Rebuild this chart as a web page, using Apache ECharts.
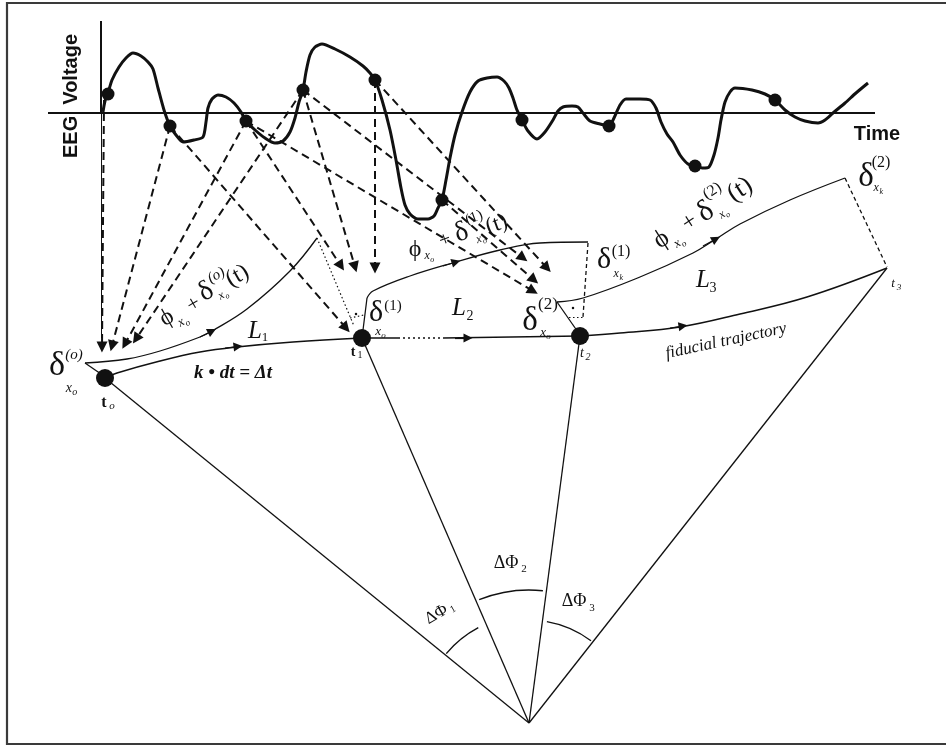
<!DOCTYPE html>
<html><head><meta charset="utf-8">
<script src="https://cdn.jsdelivr.net/npm/echarts/dist/echarts.min.js"></script>
<style>html,body{margin:0;padding:0;background:#fff}#c{width:946px;height:747px}</style>
</head><body><div id="c"></div>
<script>
// ---------- data (diagram units = pixels of the reference) ----------
const eegCurve = [
[103,112],[105,101],[108,93],[112,80],[119,67],[126,58],[133,53],[141,56],[148,62],[153,69],[158,88],[164,110],[170,126],[176,135],[183,142],[194,140],[203,137],[206,122],[208,108],[212,99],[218,95],[226,97],[234,103],[241,112],[246,121],[255,130],[265,138],[275,143],[283,141],[290,132],[295,118],[299,102],[303,90],[306,72],[310,55],[315,47],[322,44],[335,49],[350,57],[363,66],[370,73],[375,80],[382,100],[390,130],[396,160],[401,188],[405,205],[410,214],[418,219],[428,219],[434,216],[438,208],[442,200],[446,180],[450,158],[455,135],[462,112],[470,92],[478,81],[487,78],[497,77],[504,81],[509,88],[513,98],[517,110],[522,120],[528,131],[537,139],[545,132],[553,120],[558,111],[563,107],[572,106],[578,107],[583,113],[590,121],[600,124],[609,126],[614,118],[620,105],[626,99],[640,99],[650,100],[656,108],[661,122],[667,134],[673,142],[680,155],[688,164],[695,166],[703,168],[709,167],[714,155],[718,138],[721,120],[725,102],[730,92],[735,88],[752,90],[765,94],[775,100],[785,110],[795,117],[805,121],[818,123],[825,120],[833,113],[845,103],[856,93],[868,83]
];
const eegSamples = [[108,94],[170,126],[246,121],[303,90],[375,80],[442,200],[522,120],[609,126],[695,166],[775,100]];
const eegAxes = [[[101,21],[101,113]],[[48,113],[875,113]]];
const axisTail = [[[101,113],[101,338]]];
const embedArrows = [
 [[104,100],[102,347]],[[170,126],[112,346]],[[246,121],[125,344]],[[303,90],[136,339]],
 [[170,126],[346,328]],
 [[246,121],[341,266]],[[303,90],[355,267]],[[375,80],[375,268]],
 [[303,90],[523,258]],[[375,80],[547,268]],[[442,200],[534,280]],[[246,121],[533,291]]
];
const fiducialA = [[105,378],[117,373],[160,361],[200,352],[237,347],[293,342],[362,338]];
const fiducialB = [[362,338],[398,338]];
const fiducialGap = [[398,338],[443,338]];
const fiducialC = [[443,338],[580,336]];
const fiducialD = [[580,336],[620,333],[680,327],[740,314],[807,297],[887,268]];
const perturbed0 = [[85,363],[127,359],[160,351],[200,337],[212,331],[247,309],[290,271],[317,238]];
const perturbed1 = [[367,298],[373,291],[410,276],[456,262],[500,250],[540,243],[588,242]];
const perturbed2 = [[557,302],[583,298],[640,277],[693,253],[716,239],[740,224],[790,200],[845,178]];
const flowArrows = [
 [[200,337],[212,331]],[[443,266],[456,262]],[[703,246],[716,239]],
 [[225,348],[238,346.5]],[[455,338],[468,338]],[[670,328],[683,326]]
];
const connectors = [[[85,363],[101,374]],[[362,338],[367,298]],[[557,302],[580,335]]];
const renormDashes = [[[588,243],[583,317]],[[845,178],[887,267]]];
const renormDots = [[[317,238],[354,326]],[[569,317],[583,317]],[[350,318],[364,315]]];
const refPoints = [[105,378],[362,338],[580,336]];
const apex = [529,723];
const rayStarts = [[105,378],[362,338],[580,336],[887,268]];
const angleArcs = [[529,723,108,-140,-118],[529,723,133,-112,-84],[529,723,103,-80,-53]];

// ---------- rendering ----------
const INK = '#111';
const SERIF = '"Liberation Serif","DejaVu Serif","Times New Roman",serif';
const SANS = '"Liberation Sans",Arial,sans-serif';
const PHI = 'ϕ';
function T(x,y,text,size,opt){opt=opt||{};return {type:'text',x:x,y:y,rotation:(opt.rot||0)*Math.PI/180,z:100,
 style:{text:text,font:(opt.it?'italic ':'')+(opt.b?'bold ':'')+size+'px '+(opt.fam||SERIF),fill:INK,
 align:'center',verticalAlign:'middle',textAlign:'center',textVerticalAlign:'middle'}};}
function XO(x,y,size,letter){return [T(x-size*0.15,y,'x',size,{it:true}),T(x+size*0.27,y+size*0.3,letter,Math.round(size*0.7),{it:true})];}
function G(x,y,rot,children){return {type:'group',x:x,y:y,rotation:rot*Math.PI/180,z:100,children:children};}

const labels = [
 T(71,96,'EEG  Voltage',20,{b:true,fam:SANS,rot:90}),
 T(877,134,'Time',20,{b:true,fam:SANS}),
 T(57,366,'δ',34), T(74,355,'(o)',15,{it:true}), ...XO(71,388,14,'o'),
 T(104,403,'t',16,{b:true}), T(112,406,'o',11,{it:true}),
 T(233,373,'k • dt = Δt',19,{it:true,b:true}),
 T(255,331,'L',25,{it:true}), T(265,338,'1',13),
 G(201,297,30,[T(-40,1,PHI,24), ...XO(-28,12,13,'o'), T(-10,3,'+',22), T(7,-2,'δ',28), T(24,-11,'(o)',15,{it:true}), ...XO(20,9,12,'o'), T(42,0,'(t)',24)]),
 T(415,250,PHI,24), ...XO(429,256,12,'o'),
 G(470,233,20,[T(-26,-2,'+',20), T(-8,-3,'δ',28), T(9,-13,'(1)',15), ...XO(8,9,12,'o'), T(28,1,'(t)',23)]),
 T(376,313,'δ',30), T(393,306,'(1)',15), ...XO(380,332,13,'o'),
 T(459,308,'L',25,{it:true}), T(470,316,'2',14),
 T(353,352,'t',14,{b:true}), T(360,355,'1',10),
 T(530,321,'δ',33), T(548,305,'(2)',17), ...XO(545,333,13,'o'),
 T(582,353,'t',14,{it:true}), T(588,357,'2',10,{it:true}),
 T(604,260,'δ',30), T(621,252,'(1)',16), ...XO(618,274,12,'k'),
 G(701,214,33,[T(-47,0,PHI,26), ...XO(-34,12,13,'o'), T(-14,1,'+',24), T(5,1,'δ',30), T(22,-13,'(2)',16), ...XO(19,12,12,'o'), T(46,1,'(t)',26)]),
 T(703,280,'L',25,{it:true}), T(713,288,'3',14),
 T(893,284,'t',13,{it:true}), T(899,288,'3',9,{it:true}),
 T(866,177,'δ',33), T(881,163,'(2)',16), ...XO(878,188,12,'k'),
 T(726,341,'fiducial trajectory',17,{it:true,rot:12}),
 G(439,613,30,[T(-3,0,'ΔΦ',17), T(14,4,'1',10)]),
 T(506,563,'ΔΦ',18), T(524,569,'2',11),
 T(574,601,'ΔΦ',18), T(592,608,'3',11)
];

function segs(list, style, extra){
 return Object.assign({type:'lines',coordinateSystem:'cartesian2d',polyline:false,silent:true,
  lineStyle:Object.assign({color:INK,opacity:1},style),data:list.map(c=>({coords:c}))},extra||{});
}
function curve(pts, width, smooth, type){
 return {type:'line',data:pts,smooth:smooth,showSymbol:false,symbol:'none',silent:true,
  lineStyle:{color:INK,width:width,type:type||'solid'},z:3};
}
function dots(pts,size,z){return {type:'scatter',data:pts,symbolSize:size,itemStyle:{color:INK,opacity:1},z:z,silent:true};}

const chart = echarts.init(document.getElementById('c'),null,{renderer:'canvas'});
chart.setOption({
 animation:false,
 backgroundColor:'#fff',
 grid:{left:0,right:0,top:0,bottom:0},
 xAxis:{type:'value',min:0,max:946,show:false},
 yAxis:{type:'value',min:0,max:747,inverse:true,show:false},
 graphic:[{type:'rect',shape:{x:7,y:3,width:945,height:741},style:{fill:'none',stroke:'#3a3a3a',lineWidth:2.2},z:1}].concat(labels),
 series:[
  segs(eegAxes,{width:2}),
  segs(axisTail,{width:1}),
  curve(eegCurve,3,0.25),
  dots(eegSamples,13,5),
  segs(embedArrows,{width:2,type:[8,5]},{symbol:['none','triangle'],symbolSize:11,z:4}),
  curve(fiducialA,1.5,0.4),
  curve(fiducialB,1.5,false),
  curve(fiducialGap,1.3,false,[2,3]),
  curve(fiducialC,1.5,false),
  curve(fiducialD,1.5,0.4),
  curve(perturbed0,1.3,0.4),
  curve(perturbed1,1.3,0.4),
  curve(perturbed2,1.3,0.4),
  segs(flowArrows,{width:1.2},{symbol:['none','triangle'],symbolSize:9,z:4}),
  segs(connectors,{width:1.3}),
  segs(renormDashes,{width:1.3,type:[4,3]}),
  segs(renormDots,{width:1.2,type:[1.5,2.5]}),
  segs(rayStarts.map(p=>[p,apex]),{width:1.3}),
  {type:'custom',coordinateSystem:'cartesian2d',data:angleArcs,silent:true,z:3,
   renderItem:function(params,api){
    const c=api.coord([api.value(0),api.value(1)]);
    const r=api.size([api.value(2),0])[0];
    return {type:'arc',shape:{cx:c[0],cy:c[1],r:r,startAngle:api.value(3)*Math.PI/180,endAngle:api.value(4)*Math.PI/180,clockwise:true},
     style:{stroke:INK,fill:'none',lineWidth:1.4}};
   }},
  dots(refPoints,18,6),
  dots([[573,308],[356,314]],2.5,6)
 ]
});
</script></body></html>
